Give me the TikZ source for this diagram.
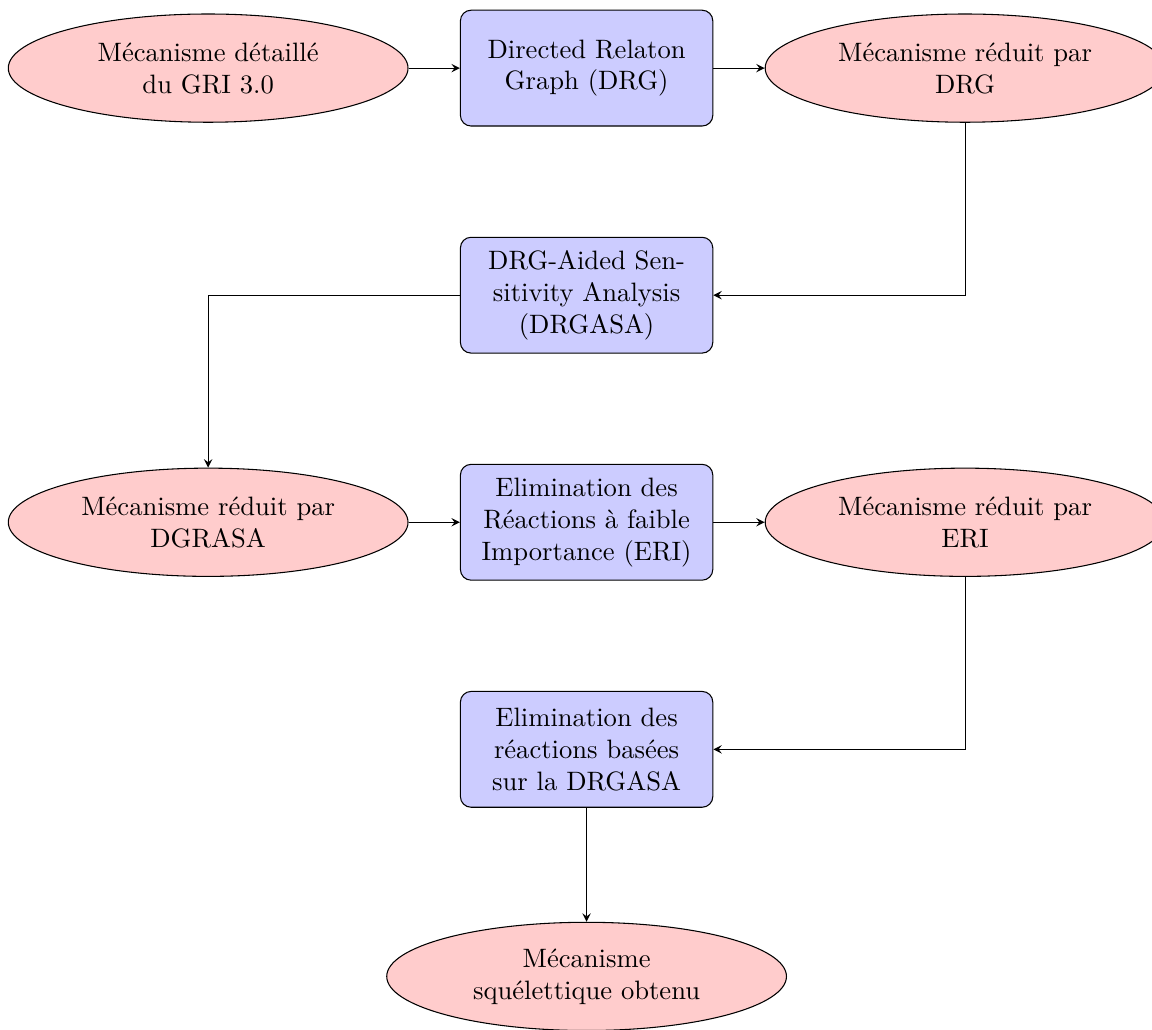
\documentclass[tikz,border=0pt]{standalone}
\usepackage{fontspec}
\usetikzlibrary{shapes.geometric,arrows}

\begin{document}
\begin{tikzpicture}[
    mech/.style={ellipse, draw, fill=red!20, text width=3.5cm, minimum height=1.43cm, align=center},
    method/.style={rectangle, draw, rounded corners, fill=blue!20, text width=3.1cm, minimum height=1.53cm, align=center},
    flow/.style={-stealth}
  ]
    \useasboundingbox (0,0) rectangle (15.22,-13.6);

    % Row 1
    \node[mech] (gri) at (2.75,-0.9) {Mécanisme détaillé\\du GRI 3.0};
    \node[method] (drg) at (7.75,-0.9) {Directed Relaton\\Graph (DRG)};
    \node[mech] (mdrg) at (12.75,-0.9) {Mécanisme réduit par\\DRG};

    % Row 2
    \node[method] (drgasa) at (7.75,-3.9) {DRG-Aided Sen-\\sitivity Analysis\\(DRGASA)};

    % Row 3
    \node[mech] (mdrgasa) at (2.75,-6.9) {Mécanisme réduit par\\DGRASA};
    \node[method] (eri) at (7.75,-6.9) {Elimination des\\Réactions à faible\\Importance (ERI)};
    \node[mech] (meri) at (12.75,-6.9) {Mécanisme réduit par\\ERI};

    % Row 4
    \node[method] (elim) at (7.75,-9.9) {Elimination des\\réactions basées\\sur la DRGASA};

    % Result
    \node[mech] (skel) at (7.75,-12.9) {Mécanisme\\squélettique obtenu};

    % Arrows
    \draw[flow] (gri) -- (drg);
    \draw[flow] (drg) -- (mdrg);
    \draw[flow] (mdrg.south) |- (drgasa.east);
    \draw[flow] (drgasa.west) -| (mdrgasa.north);
    \draw[flow] (mdrgasa) -- (eri);
    \draw[flow] (eri) -- (meri);
    \draw[flow] (meri.south) |- (elim.east);
    \draw[flow] (elim) -- (skel);
  \end{tikzpicture}
\end{document}
